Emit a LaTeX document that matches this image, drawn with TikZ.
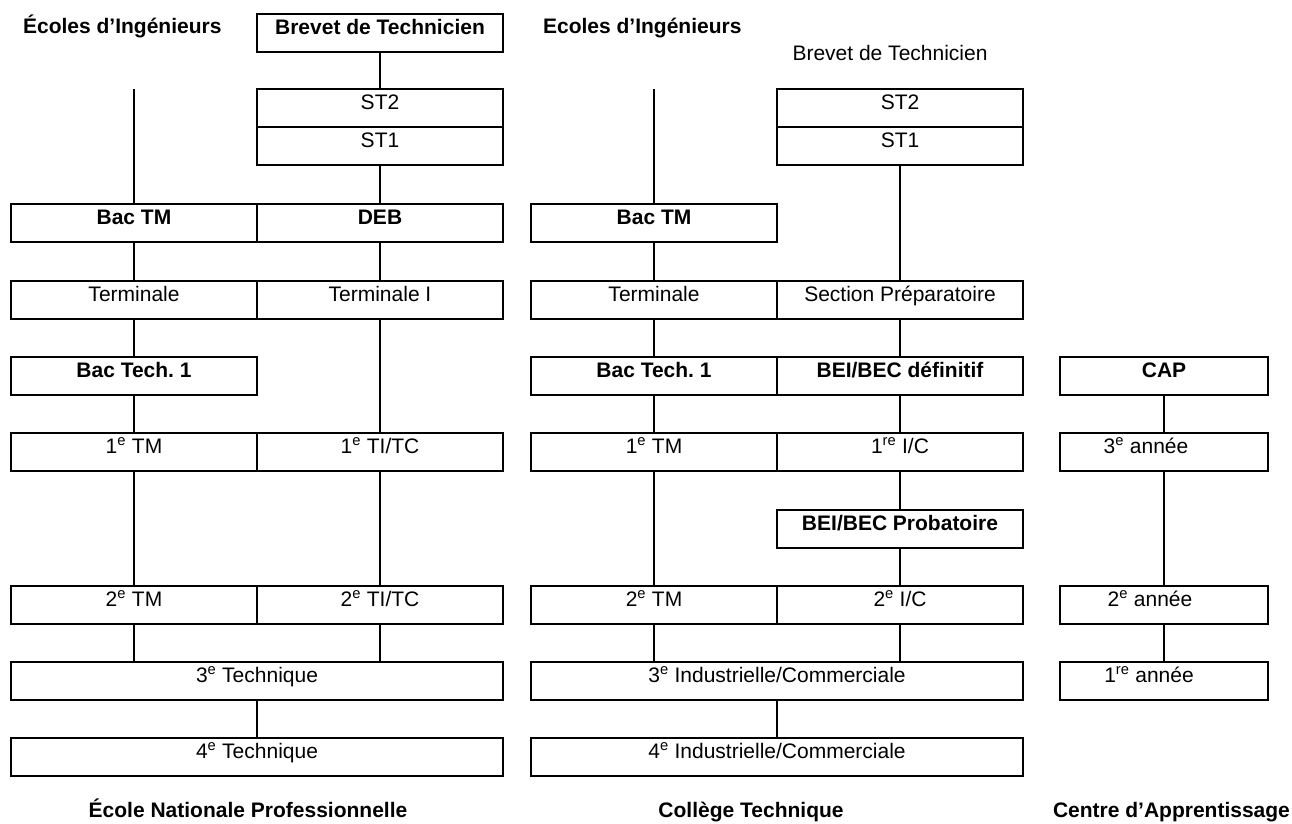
\documentclass[tikz,border=0pt]{standalone}
\usepackage{fontspec}
\setmainfont{Liberation Sans}
\frenchspacing
\begin{document}
\begin{tikzpicture}[x=1pt,y=-1pt,line width=2.2pt,
  every node/.style={font=\fontsize{21}{25}\selectfont},
  cell/.style={draw, inner sep=0pt, text height=20pt, text depth=18pt},
  half/.style={cell, minimum width=246pt},
  full/.style={cell, minimum width=492pt},
  narrow/.style={cell, minimum width=208pt},
  bold/.style={font=\fontsize{21}{25}\selectfont\bfseries},
  head/.style={inner sep=0pt, bold},
  plainhead/.style={inner sep=0pt},
  link/.style={line width=2pt}]
\useasboundingbox (0,0) rectangle (1292,823);

% ---------- École Nationale Professionnelle ----------
\node[head, anchor=base west] (ei1) at (22,33) {Écoles d’Ingénieurs};
\node[half, bold] (bt1) at (380,33) {Brevet de Technicien};
\node[half] (st2a) at (380,108) {ST2};
\node[half] (st1a) at (380,146) {ST1};
\node[half, bold] (bactma) at (134,223) {Bac TM};
\node[half, bold] (deb) at (380,223) {DEB};
\node[half] (terma) at (134,300) {Terminale};
\node[half] (termi) at (380,300) {Terminale I};
\node[half, bold] (bactecha) at (134,376) {Bac Tech. 1};
\node[half] (ptma) at (134,452) {1\textsuperscript{e} TM};
\node[half] (ptitc) at (380,452) {1\textsuperscript{e} TI/TC};
\node[half] (stma) at (134,605) {2\textsuperscript{e} TM};
\node[half] (stitc) at (380,605) {2\textsuperscript{e} TI/TC};
\node[full] (tech3) at (257,681) {3\textsuperscript{e} Technique};
\node[full] (tech4) at (257,757) {4\textsuperscript{e} Technique};
\node[head, anchor=base] (enp) at (248,817) {École Nationale Professionnelle};

\coordinate (topa) at (134,89);
\draw[link] (topa) -- (bactma.north);
\draw[link] (bt1.south) -- (st2a.north);
\draw[link] (st1a.south) -- (deb.north);
\draw[link] (bactma.south) -- (terma.north);
\draw[link] (deb.south) -- (termi.north);
\draw[link] (terma.south) -- (bactecha.north);
\draw[link] (termi.south) -- (ptitc.north);
\draw[link] (bactecha.south) -- (ptma.north);
\draw[link] (ptma.south) -- (stma.north);
\draw[link] (ptitc.south) -- (stitc.north);
\draw[link] (stma.south) -- (stma.south |- tech3.north);
\draw[link] (stitc.south) -- (stitc.south |- tech3.north);
\draw[link] (tech3.south) -- (tech4.north);

% ---------- Collège Technique ----------
\node[head, anchor=base west] (ei2) at (542,33) {Ecoles d’Ingénieurs};
\node[plainhead, anchor=base] (bt2) at (890,60) {Brevet de Technicien};
\node[half] (st2b) at (900,108) {ST2};
\node[half] (st1b) at (900,146) {ST1};
\node[half, bold] (bactmb) at (654,223) {Bac TM};
\node[half] (termb) at (654,300) {Terminale};
\node[half] (secprep) at (900,300) {Section Préparatoire};
\node[half, bold] (bactechb) at (654,376) {Bac Tech. 1};
\node[half, bold] (beidef) at (900,376) {BEI/BEC définitif};
\node[half] (ptmb) at (654,452) {1\textsuperscript{e} TM};
\node[half] (pic) at (900,452) {1\textsuperscript{re} I/C};
\node[half, bold] (beiprob) at (900,529) {BEI/BEC Probatoire};
\node[half] (stmb) at (654,605) {2\textsuperscript{e} TM};
\node[half] (sic) at (900,605) {2\textsuperscript{e} I/C};
\node[full] (ic3) at (777,681) {3\textsuperscript{e} Industrielle/Commerciale};
\node[full] (ic4) at (777,757) {4\textsuperscript{e} Industrielle/Commerciale};
\node[head, anchor=base] (ct) at (751,817) {Collège Technique};

\coordinate (topb) at (654,89);
\draw[link] (topb) -- (bactmb.north);
\draw[link] (st1b.south) -- (secprep.north);
\draw[link] (bactmb.south) -- (termb.north);
\draw[link] (termb.south) -- (bactechb.north);
\draw[link] (secprep.south) -- (beidef.north);
\draw[link] (bactechb.south) -- (ptmb.north);
\draw[link] (beidef.south) -- (pic.north);
\draw[link] (ptmb.south) -- (stmb.north);
\draw[link] (pic.south) -- (beiprob.north);
\draw[link] (beiprob.south) -- (sic.north);
\draw[link] (stmb.south) -- (stmb.south |- ic3.north);
\draw[link] (sic.south) -- (sic.south |- ic3.north);
\draw[link] (ic3.south) -- (ic4.north);

% ---------- Centre d'Apprentissage ----------
% the year labels sit a little left of the box centre
\node[narrow, bold] (cap) at (1164,376) {CAP};
\node[narrow] (an3) at (1164,452) {3\textsuperscript{e} année\hspace*{36pt}};
\node[narrow] (an2) at (1164,605) {2\textsuperscript{e} année\hspace*{28pt}};
\node[narrow] (an1) at (1164,681) {1\textsuperscript{re} année\hspace*{30pt}};
\node[head, anchor=base east] (ca) at (1291,817) {Centre d’Apprentissage};

\draw[link] (cap.south) -- (an3.north);
\draw[link] (an3.south) -- (an2.north);
\draw[link] (an2.south) -- (an1.north);
\end{tikzpicture}
\end{document}
